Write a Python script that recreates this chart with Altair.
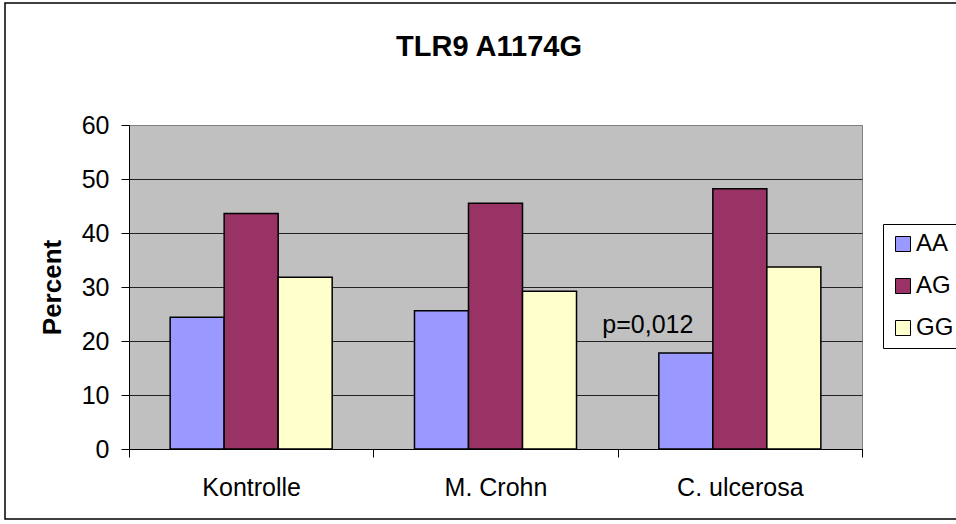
import altair as alt
import pandas as pd

# ---- data ----
categories = ["Kontrolle", "M. Crohn", "C. ulcerosa"]
genotypes = ["AA", "AG", "GG"]
aa_values = [24.4, 25.6, 17.8]
ag_values = [43.6, 45.5, 48.2]
gg_values = [31.8, 29.2, 33.7]
colors = ["#9999FF", "#993366", "#FFFFCC"]
y_ticks = [0, 10, 20, 30, 40, 50, 60]
title_text = ["TLR9 A1174G"]
y_title = "Percent"
annotation_text = ["p=0,012"]
annotation_cat = ["C. ulcerosa"]
annotation_geno = ["AA"]
annotation_value = [21.5]

rows = []
for i, c in enumerate(categories):
    for g, vals in zip(genotypes, [aa_values, ag_values, gg_values]):
        rows.append({"cat": c, "geno": g, "value": vals[i]})
df = pd.DataFrame(rows)
ann = pd.DataFrame({"cat": annotation_cat, "geno": annotation_geno,
                    "value": annotation_value, "label": annotation_text})

FONT = "Liberation Sans"

x_enc = alt.X(
    "cat:N", sort=categories,
    scale=alt.Scale(paddingInner=0, paddingOuter=0),
    axis=alt.Axis(title=None, tickBand="extent", labelAngle=0, labelFontSize=25,
                  labelFont=FONT, labelColor="#000", labelPadding=18, tickSize=8,
                  tickColor="#000", domainColor="#000", grid=False),
)
xo_enc = alt.XOffset("geno:N", sort=genotypes,
                     scale=alt.Scale(paddingInner=0, paddingOuter=0.762))
y_enc = alt.Y(
    "value:Q",
    scale=alt.Scale(domain=[0, 60], nice=False),
    axis=alt.Axis(title=y_title, values=y_ticks, labelFontSize=25, labelFont=FONT,
                  labelColor="#000", labelPadding=12, tickSize=8, tickColor="#000",
                  domainColor="#000", grid=True,
                  gridColor={"condition": {"test": "datum.value >= 60", "value": "#808080"},
                             "value": "#222222"},
                  titleFont=FONT, titleFontSize=26, titleFontWeight="bold",
                  titleColor="#000", titlePadding=16),
)

bars = alt.Chart(df).mark_bar(stroke="#000", strokeWidth=1.5).encode(
    x=x_enc, xOffset=xo_enc, y=y_enc,
    color=alt.Color(
        "geno:N", sort=genotypes,
        scale=alt.Scale(domain=genotypes, range=colors),
        legend=alt.Legend(title=None, orient="none", legendX=754, legendY=99,
                          strokeColor="#000", fillColor="#FFFFFF", padding=8,
                          rowPadding=18, symbolType="square", symbolSize=225,
                          symbolStrokeColor="#000", symbolStrokeWidth=1,
                          labelFontSize=24, labelFont=FONT, labelColor="#000",
                          labelOffset=1),
    ),
)

text = alt.Chart(ann).mark_text(fontSize=25, font=FONT, color="#000", align="center",
                                baseline="alphabetic", dx=-38).encode(
    x=alt.X("cat:N", sort=categories),
    xOffset=alt.XOffset("geno:N", sort=genotypes),
    y=alt.Y("value:Q"),
    text="label:N",
)

title = alt.Chart(pd.DataFrame({"t": title_text})).mark_text(
    fontSize=29, font=FONT, fontWeight="bold", color="#000", align="center",
    baseline="alphabetic").encode(
    x=alt.value(360), y=alt.value(-69), text="t:N")

border = alt.Chart(pd.DataFrame({"b": [0]})).mark_rect(
    fill=None, stroke="#000", strokeWidth=1.5).encode(
    x=alt.value(-124), x2=alt.value(840), y=alt.value(-122), y2=alt.value(394))

chart = alt.layer(border, bars, text, title).properties(
    width=733, height=324,
    autosize=alt.AutoSizeParams(type="none"),
    padding={"left": 129, "top": 125, "right": 94, "bottom": 75},
    background="#FFFFFF",
).configure_view(fill="#C0C0C0", stroke="#808080", strokeWidth=1)

chart.save("out.html", embed_options={"renderer": "svg", "actions": False})
